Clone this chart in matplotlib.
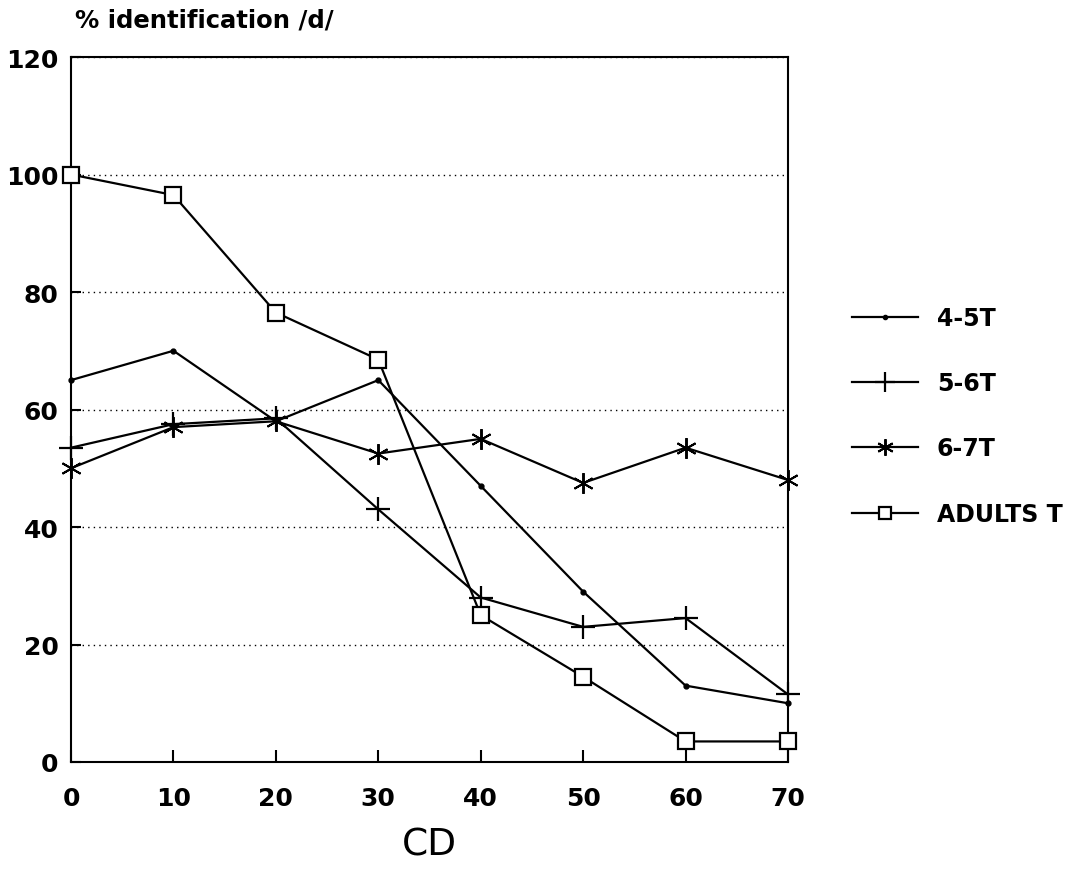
import matplotlib
matplotlib.use("Agg")
import matplotlib.pyplot as plt
from matplotlib.lines import Line2D

cd = [0, 10, 20, 30, 40, 50, 60, 70]

age_4_5 = [65, 70, 58, 65, 47, 29, 13, 10]
age_5_6 = [53.5, 57.5, 58.5, 43, 28, 23, 24.5, 11.5]
age_6_7 = [50, 57, 58, 52.5, 55, 47.5, 53.5, 48]
adults = [100, 96.5, 76.5, 68.5, 25, 14.5, 3.5, 3.5]

labels = ["4-5T", "5-6T", "6-7T", "ADULTS T"]

asterisk = (6, 2, 0)

fig = plt.figure(figsize=(10.77, 8.70), dpi=100)
ax = fig.add_axes([71 / 1077, 1 - 763 / 870, 717 / 1077, 705 / 870])

kw = dict(color="black", lw=1.6, clip_on=False, zorder=3)
ax.plot(cd, age_4_5, marker="o", ms=3.5, label=labels[0], **kw)
ax.plot(cd, age_5_6, marker="+", ms=17, mew=1.6, label=labels[1], **kw)
ax.plot(cd, age_6_7, marker=asterisk, ms=15, mew=1.4, label=labels[2], **kw)
ax.plot(cd, adults, marker="s", ms=11, mfc="white", mew=1.6, label=labels[3], **kw)

ax.set_xlim(0, 70)
ax.set_ylim(0, 120)
ax.set_xticks(cd)
ax.set_yticks(range(0, 121, 20))

for s in ax.spines.values():
    s.set_linewidth(1.5)

ax.grid(axis="y", linestyle=(0, (1, 3)), color="black", lw=1.0)
ax.set_axisbelow(True)

ax.tick_params(axis="x", direction="in", length=9, width=1.5, pad=17,
               labelsize=18)
ax.tick_params(axis="y", direction="in", length=7, width=1.5, pad=9,
               labelsize=18)
for t in ax.get_xticklabels() + ax.get_yticklabels():
    t.set_fontweight("bold")

ax.set_xlabel("CD", fontsize=27, labelpad=12)
fig.text(75 / 1077, 1 - 20 / 870, "% identification /d/", fontsize=17.5,
         fontweight="bold", va="center", ha="left")

# legend handles drawn a little smaller than the plotted markers
handles = [
    Line2D([], [], color="black", lw=1.6, marker="o", ms=3),
    Line2D([], [], color="black", lw=1.6, marker="+", ms=14, mew=1.6),
    Line2D([], [], color="black", lw=1.6, marker=asterisk, ms=12, mew=1.4),
    Line2D([], [], color="black", lw=1.6, marker="s", ms=9, mfc="white", mew=1.6),
]
leg = fig.legend(handles, labels, loc="upper left",
                 bbox_to_anchor=(840 / 1077, 1 - 295 / 870),
                 frameon=False, handlelength=2.8, handletextpad=0.8,
                 labelspacing=1.75, borderpad=0,
                 prop={"size": 17, "weight": "bold"})

fig.savefig("out.png", dpi=100)
